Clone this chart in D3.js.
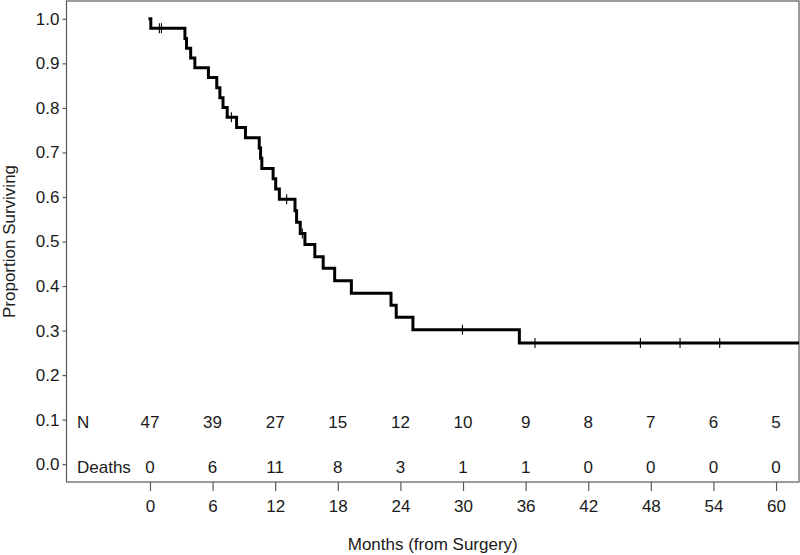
<!DOCTYPE html>
<html>
<head>
<meta charset="utf-8">
<script src="https://cdn.jsdelivr.net/npm/d3@7"></script>
<style>
  html, body { margin: 0; padding: 0; background: #fff; }
  svg { display: block; }
  text { font-family: "Liberation Sans", Arial, sans-serif; fill: #1a1a1a; }
</style>
</head>
<body>
<svg id="chart" width="800" height="555"></svg>
<script>
// ---- data ----
const stepTimes = [0, 0.08, 3.35, 3.5, 3.9, 4.3, 5.6, 6.4, 6.7, 7.0, 7.4, 8.3, 9.15, 10.47, 10.6, 10.72,
  11.8, 12.05, 12.4, 13.9, 14.05, 14.4, 14.85, 15.8, 16.6, 17.7, 19.3, 23.1, 23.6, 25.2, 35.4];
const stepSurv = [1, 0.979, 0.956, 0.934, 0.912, 0.890, 0.868, 0.845, 0.823, 0.801, 0.779, 0.756, 0.733,
  0.710, 0.687, 0.664, 0.641, 0.618, 0.595, 0.569, 0.543, 0.518, 0.493, 0.466, 0.440, 0.412, 0.384,
  0.357, 0.330, 0.302, 0.272];
const lastTime = 63;
const censorTimes = [0.9, 1.1, 7.8, 13.1, 14.6, 29.95, 36.9, 47.0, 50.8, 54.6];
const riskTimes = [0, 6, 12, 18, 24, 30, 36, 42, 48, 54, 60];
const nAtRisk = [47, 39, 27, 15, 12, 10, 9, 8, 7, 6, 5];
const deaths = [0, 6, 11, 8, 3, 1, 1, 0, 0, 0, 0];
const yTicks = [0, 0.1, 0.2, 0.3, 0.4, 0.5, 0.6, 0.7, 0.8, 0.9, 1.0];

// ---- layout ----
const box = { left: 66.5, right: 799, top: 1, bottom: 482 };
const svg = d3.select("#chart");
const x = d3.scaleLinear().domain([-8, 62.2]).range([box.left, box.right]);
const y = d3.scaleLinear().domain([-0.04, 1.04]).range([box.bottom, box.top]);

svg.append("defs").append("clipPath").attr("id", "clip")
  .append("rect").attr("x", box.left).attr("y", box.top)
  .attr("width", box.right - box.left).attr("height", box.bottom - box.top);

// frame
svg.append("rect")
  .attr("x", box.left).attr("y", box.top)
  .attr("width", box.right - box.left).attr("height", box.bottom - box.top)
  .attr("fill", "none").attr("stroke", "#5a5a5a").attr("stroke-width", 1.2);

// y axis
const yAxis = d3.axisLeft(y).tickValues(yTicks).tickFormat(d3.format(".1f"))
  .tickSize(4).tickPadding(3);
const gy = svg.append("g").attr("transform", `translate(${box.left},0)`).call(yAxis);
gy.select(".domain").remove();
gy.selectAll(".tick line").attr("stroke", "#5a5a5a").attr("stroke-width", 1.2);
gy.selectAll(".tick text").attr("font-size", 17).attr("fill", "#1a1a1a")
  .attr("font-family", '"Liberation Sans", Arial, sans-serif');

// x axis
const xAxis = d3.axisBottom(x).tickValues(riskTimes).tickFormat(d3.format("d"))
  .tickSize(9).tickPadding(9);
const gx = svg.append("g").attr("transform", `translate(0,${box.bottom})`).call(xAxis);
gx.select(".domain").remove();
gx.selectAll(".tick line").attr("stroke", "#5a5a5a").attr("stroke-width", 1.2);
gx.selectAll(".tick text").attr("font-size", 17).attr("fill", "#1a1a1a")
  .attr("font-family", '"Liberation Sans", Arial, sans-serif');

// axis titles
svg.append("text")
  .attr("x", (box.left + box.right) / 2).attr("y", 550)
  .attr("text-anchor", "middle").attr("font-size", 17)
  .text("Months (from Surgery)");
svg.append("text")
  .attr("transform", `translate(15,${(box.top + box.bottom) / 2}) rotate(-90)`)
  .attr("text-anchor", "middle").attr("font-size", 17)
  .text("Proportion Surviving");

// survival curve
const pts = stepTimes.map((t, i) => [t, stepSurv[i]]);
pts.push([lastTime, stepSurv[stepSurv.length - 1]]);
const line = d3.line().x(d => x(d[0])).y(d => y(d[1])).curve(d3.curveStepAfter);
svg.append("path")
  .attr("clip-path", "url(#clip)")
  .attr("d", line(pts))
  .attr("fill", "none").attr("stroke", "#000").attr("stroke-width", 3)
  .attr("stroke-linejoin", "miter").attr("stroke-linecap", "square");

// censor marks
const survAt = t => stepSurv[d3.bisectRight(stepTimes, t) - 1];
svg.append("g").selectAll("line").data(censorTimes).join("line")
  .attr("x1", d => x(d)).attr("x2", d => x(d))
  .attr("y1", d => y(survAt(d)) - 5).attr("y2", d => y(survAt(d)) + 5)
  .attr("stroke", "#000").attr("stroke-width", 1.1);

// number-at-risk table
const tbl = svg.append("g");
tbl.append("text").attr("x", 77).attr("y", y(0.1) + 8).attr("font-size", 17).text("N");
tbl.append("text").attr("x", 77).attr("y", y(0) + 8.5).attr("font-size", 17).text("Deaths");
tbl.selectAll("text.n").data(riskTimes).join("text").attr("class", "n")
  .attr("x", d => x(d)).attr("y", y(0.1) + 8).attr("text-anchor", "middle")
  .attr("font-size", 17).text((d, i) => nAtRisk[i]);
tbl.selectAll("text.dth").data(riskTimes).join("text").attr("class", "dth")
  .attr("x", d => x(d)).attr("y", y(0) + 8.5).attr("text-anchor", "middle")
  .attr("font-size", 17).text((d, i) => deaths[i]);
</script>
</body>
</html>
